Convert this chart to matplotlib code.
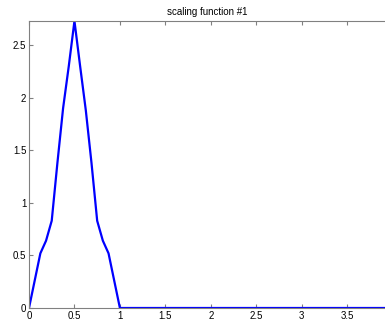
import matplotlib
matplotlib.use("Agg")
import matplotlib.pyplot as plt
import numpy as np

x_vals = [0, 0.0625, 0.125, 0.1875, 0.25, 0.3125, 0.375, 0.4375, 0.5,
          0.5625, 0.625, 0.6875, 0.75, 0.8125, 0.875, 0.9375, 1.0,
          1.5, 2.0, 2.5, 3.0, 3.5, 4.0]
y_vals = [0, 0.26, 0.52, 0.64, 0.83, 1.38, 1.90, 2.30, 2.73,
          2.30, 1.88, 1.38, 0.83, 0.64, 0.52, 0.26, 0.0,
          0, 0, 0, 0, 0, 0]
xticks = [0, 0.5, 1, 1.5, 2, 2.5, 3, 3.5]
yticks = [0, 0.5, 1, 1.5, 2, 2.5]
title = "scaling function #1"

plt.rcParams['font.family'] = ['Liberation Sans', 'DejaVu Sans']
fig = plt.figure(figsize=(3.85, 3.21), dpi=100)
ax = fig.add_axes([29/385, 13/321, 363.6/385, 287/321])
ax.plot(x_vals, y_vals, color='#0000ff', lw=1.6)
ax.set_xlim(0, 4)
ax.set_ylim(0, 2.73)
ax.set_xticks(xticks)
ax.set_xticklabels(['0', '0.5', '1', '1.5', '2', '2.5', '3', '3.5'])
ax.set_yticks(yticks)
ax.set_yticklabels(['0', '0.5', '1', '1.5', '2', '2.5'])
ax.tick_params(direction='in', top=True, right=True, labelsize=7, length=3,
               color='#808080', pad=2)
for s in ax.spines.values():
    s.set_color('#808080')
    s.set_linewidth(0.8)
ax.set_title(title, fontsize=7, pad=4, x=(385-29)/2/363.6)
fig.savefig("out.png", dpi=100)
